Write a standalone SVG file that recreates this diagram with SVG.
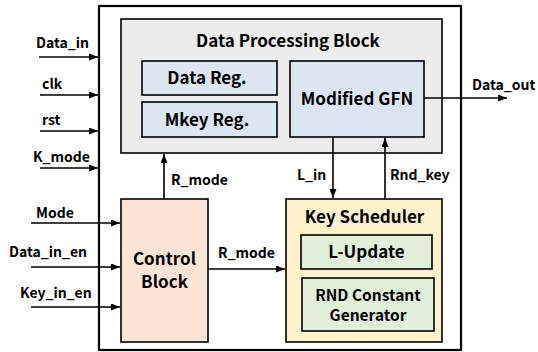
<svg xmlns="http://www.w3.org/2000/svg" width="538" height="352" viewBox="0 0 538 352">
<defs>
<marker id="ah" markerWidth="9" markerHeight="7" refX="9" refY="3.5" orient="auto" markerUnits="userSpaceOnUse">
<path d="M0,0 L9,3.5 L0,7 Z" fill="#000"/>
</marker>
</defs>
<style>
text{font-family:"Noto Sans CJK KR","Open Sans",sans-serif;font-weight:bold;fill:#000}
.lbl{font-size:14px}
.ttl{font-size:17px;text-anchor:middle}
.sm{font-size:15.5px}
.blk{stroke:#000;stroke-width:1.6}
.wire{stroke:#000;stroke-width:1.6;fill:none}
.arr{marker-end:url(#ah)}
</style>
<rect width="538" height="352" fill="#fff"/>
<g id="outer"><rect x="99" y="6" width="362" height="344" fill="#fff" stroke="#000" stroke-width="2.2"/></g>
<g id="dpb">
<rect class="blk" x="121" y="19" width="321" height="134" fill="#ececec"/>
<text class="ttl" x="288" y="47">Data Processing Block</text>
</g>
<g id="datareg">
<rect class="blk" x="142" y="61" width="135" height="34" fill="#dce6f2"/>
<text class="ttl" x="207" y="84">Data Reg.</text>
</g>
<g id="mkeyreg">
<rect class="blk" x="142" y="102" width="135" height="35" fill="#dce6f2"/>
<text class="ttl" x="207" y="126">Mkey Reg.</text>
</g>
<g id="gfn">
<rect class="blk" x="290" y="61" width="134" height="76" fill="#dce6f2"/>
<text class="ttl" x="357" y="105">Modified GFN</text>
</g>
<g id="control">
<rect class="blk" x="121" y="199" width="87" height="143" fill="#fbe5d6"/>
<text class="ttl" x="164.5" y="265">Control</text>
<text class="ttl" x="164.5" y="288">Block</text>
</g>
<g id="keysched">
<rect class="blk" x="286" y="199" width="156" height="143" fill="#fff2cc"/>
<text class="ttl" x="364.5" y="223">Key Scheduler</text>
</g>
<g id="lupdate">
<rect class="blk" x="301" y="235" width="131" height="34" fill="#e2efda"/>
<text class="ttl" x="366.5" y="258">L-Update</text>
</g>
<g id="rnd">
<rect class="blk" x="302" y="278" width="132" height="53" fill="#e2efda"/>
<text class="ttl sm" x="368" y="301">RND Constant</text>
<text class="ttl sm" x="368" y="321">Generator</text>
</g>
<g id="connectors">
<line class="wire arr" x1="39" y1="57" x2="98" y2="57"/>
<line class="wire arr" x1="40" y1="95" x2="98" y2="95"/>
<line class="wire arr" x1="40" y1="131" x2="98" y2="131"/>
<line class="wire arr" x1="40" y1="168" x2="98" y2="168"/>
<line class="wire arr" x1="31" y1="223" x2="120" y2="223"/>
<line class="wire arr" x1="31" y1="267" x2="120" y2="267"/>
<line class="wire arr" x1="31" y1="307" x2="120" y2="307"/>
<line class="wire arr" x1="164" y1="199" x2="164" y2="154"/>
<line class="wire arr" x1="208" y1="269" x2="285" y2="269"/>
<line class="wire arr" x1="333" y1="137" x2="333" y2="198"/>
<line class="wire arr" x1="385" y1="199" x2="385" y2="138"/>
<line class="wire arr" x1="424" y1="98" x2="507" y2="98"/>
</g>
<g id="labels">
<text class="lbl" x="36" y="48">Data_in</text>
<text class="lbl" x="42" y="89">clk</text>
<text class="lbl" x="42" y="125">rst</text>
<text class="lbl" x="33" y="162">K_mode</text>
<text class="lbl" x="36" y="218">Mode</text>
<text class="lbl" x="9" y="257">Data_in_en</text>
<text class="lbl" x="20" y="298">Key_in_en</text>
<text class="lbl" x="171" y="185">R_mode</text>
<text class="lbl" x="218" y="258">R_mode</text>
<text class="lbl" x="297" y="180">L_in</text>
<text class="lbl" x="390" y="180">Rnd_key</text>
<text class="lbl" x="472" y="90">Data_out</text>
</g>
</svg>
